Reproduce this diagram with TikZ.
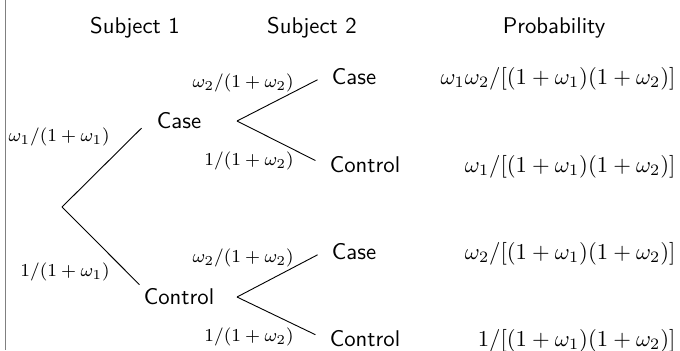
\documentclass[tikz,border=0pt]{standalone}
\tikzset{
  txt/.style={font=\sffamily, inner sep=3pt, anchor=base},
  wt/.style={anchor=east, inner sep=0pt, font=\footnotesize},
  prob/.style={anchor=base east, inner sep=0pt},
}
\begin{document}
\begin{tikzpicture}[x=0.44pt, y=-0.44pt]
\useasboundingbox (0,0) rectangle (680,350);
\draw[gray] (5.3,0) -- (5.3,350);
% column heads
\node[txt] (head1) at (135,33){Subject 1};
\node[txt] (head2) at (312,33){Subject 2};
\node[txt] (head3) at (554,33){Probability};
% subject 1
\coordinate (root) at (62,207);
\node[txt] (case1) at (179,128){Case};
\node[txt] (ctrl1) at (179,304){Control};
\draw[shorten >=5pt](root) -- (case1.west);
\draw[](root) -- ([shift={(3,4)}]ctrl1.north west);
\node[wt] (w1a) at (110,137){$\omega_1/(1+\omega_1)$};
\node[wt] (w1b) at (110,272){$1/(1+\omega_1)$};
% subject 2
\coordinate (fork1) at (237,121);
\coordinate (fork2) at (237,297);
\node[txt] (case2) at (354,84){Case};
\node[txt] (ctrl2) at (365,172){Control};
\node[txt] (case3) at (354,259){Case};
\node[txt] (ctrl3) at (365,346){Control};
\draw[shorten >=3.5pt](fork1) -- (case2.west);
\draw[shorten >=3.5pt](fork1) -- (ctrl2.west);
\draw[shorten >=3.5pt](fork2) -- (case3.west);
\draw[shorten >=3.5pt](fork2) -- (ctrl3.west);
\node[wt] (w2a) at (294,83){$\omega_2/(1+\omega_2)$};
\node[wt] (w2b) at (294,161){$1/(1+\omega_2)$};
\node[wt] (w2c) at (294,258){$\omega_2/(1+\omega_2)$};
\node[wt] (w2d) at (294,337){$1/(1+\omega_2)$};
% probabilities
\node[prob] (p1) at (676,84){$\omega_1\omega_2/[(1+\omega_1)(1+\omega_2)]$};
\node[prob] (p2) at (676,172){$\omega_1/[(1+\omega_1)(1+\omega_2)]$};
\node[prob] (p3) at (676,259){$\omega_2/[(1+\omega_1)(1+\omega_2)]$};
\node[prob] (p4) at (676,346){$1/[(1+\omega_1)(1+\omega_2)]$};
\end{tikzpicture}
\end{document}
